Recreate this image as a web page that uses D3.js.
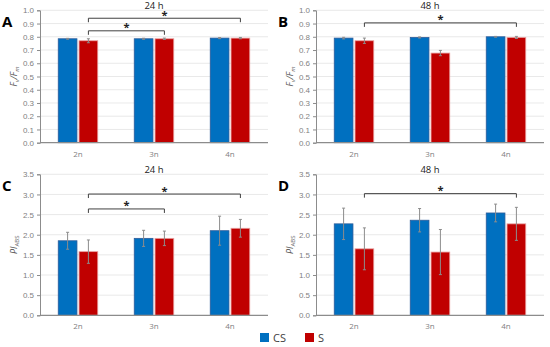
<!DOCTYPE html>
<html>
<head>
<meta charset="utf-8">
<script src="https://cdn.jsdelivr.net/npm/d3@7"></script>
<style>
  body { margin: 0; background: #fff; }
  svg { font-family: "Open Sans", "Liberation Sans", sans-serif; }
</style>
</head>
<body>
<div id="chart-area"></div>
<script>
// categories and series
const ploidy = ["2n", "3n", "4n"]
const series = ["CS", "S"]

// Fv/Fm, 24 h
const fvfm24CS = [0.785, 0.785, 0.790]
const fvfm24S = [0.770, 0.785, 0.790]
const fvfm24CSerr = [0.003, 0.004, 0.004]
const fvfm24Serr = [0.015, 0.005, 0.005]
// Fv/Fm, 48 h
const fvfm48CS = [0.790, 0.795, 0.800]
const fvfm48S = [0.770, 0.677, 0.795]
const fvfm48CSerr = [0.006, 0.004, 0.003]
const fvfm48Serr = [0.020, 0.020, 0.008]
// PI ABS, 24 h
const pi24CS = [1.85, 1.91, 2.10]
const pi24S = [1.58, 1.91, 2.16]
const pi24CSerr = [0.21, 0.20, 0.36]
const pi24Serr = [0.29, 0.18, 0.22]
// PI ABS, 48 h
const pi48CS = [2.27, 2.36, 2.54]
const pi48S = [1.65, 1.57, 2.27]
const pi48CSerr = [0.39, 0.29, 0.22]
const pi48Serr = [0.52, 0.56, 0.41]

// significance brackets (from, to, level)
const sig24A = [["2n", "3n", 0.845], ["2n", "4n", 0.94]]
const sig48B = [["2n", "4n", 0.905]]
const sig24C = [["2n", "3n", 2.64], ["2n", "4n", 3.01]]
const sig48D = [["2n", "4n", 3.02]]

const fvfmTicks = d3.range(0, 1.01, 0.1)
const piTicks = d3.range(0, 3.51, 0.5)

const COLORS = { CS: "#0070c0", S: "#c00000" }
const STROKES = { CS: "#2e5c9a", S: "#e8a0a0" }

const svg = d3.select("#chart-area").append("svg")
  .attr("width", 550)
  .attr("height", 347)

const panels = [
  { letter: "A", title: "24 h", cs: fvfm24CS, s: fvfm24S, csErr: fvfm24CSerr, sErr: fvfm24Serr,
    sig: sig24A, ticks: fvfmTicks, max: 1, fmt: ".1f", ylabel: "fvfm",
    left: 40, right: 268, top: 10.3, bottom: 142.7 },
  { letter: "B", title: "48 h", cs: fvfm48CS, s: fvfm48S, csErr: fvfm48CSerr, sErr: fvfm48Serr,
    sig: sig48B, ticks: fvfmTicks, max: 1, fmt: ".1f", ylabel: "fvfm",
    left: 316, right: 544, top: 10.3, bottom: 142.7 },
  { letter: "C", title: "24 h", cs: pi24CS, s: pi24S, csErr: pi24CSerr, sErr: pi24Serr,
    sig: sig24C, ticks: piTicks, max: 3.5, fmt: ".1f", ylabel: "pi",
    left: 40, right: 268, top: 174.3, bottom: 315.3 },
  { letter: "D", title: "48 h", cs: pi48CS, s: pi48S, csErr: pi48CSerr, sErr: pi48Serr,
    sig: sig48D, ticks: piTicks, max: 3.5, fmt: ".1f", ylabel: "pi",
    left: 316, right: 544, top: 174.3, bottom: 315.3 }
]

panels.forEach(p => drawPanel(p))

function drawPanel(p) {
  const g = svg.append("g")

  const x = d3.scaleBand().domain(ploidy).range([p.left, p.right]).padding(0)
  const xs = d3.scaleBand().domain(series)
    .range([x.bandwidth() * 0.24, x.bandwidth() * 0.76])
    .paddingInner(0.1)
  const y = d3.scaleLinear().domain([0, p.max]).range([p.bottom, p.top])

  // gridlines
  g.append("g").selectAll("line")
    .data(p.ticks.slice(1))
    .join("line")
    .attr("x1", p.left).attr("x2", p.right)
    .attr("y1", d => y(d)).attr("y2", d => y(d))
    .attr("stroke", "#e3e3e3").attr("stroke-width", 0.8)

  // y axis
  const yAxis = g.append("g")
    .attr("transform", `translate(${p.left},0)`)
    .call(d3.axisLeft(y).tickValues(p.ticks).tickFormat(d3.format(p.fmt)).tickSize(3))
  yAxis.select(".domain").attr("stroke", "#8c8c8c")
  yAxis.selectAll(".tick line").attr("stroke", "#8c8c8c")
  yAxis.selectAll(".tick text").attr("fill", "#7f7f7f").style("font-size", "8px").attr("x", -6)

  // bars
  const rows = ploidy.map((k, i) => [
    { cat: k, key: "CS", v: p.cs[i], e: p.csErr[i] },
    { cat: k, key: "S", v: p.s[i], e: p.sErr[i] }
  ]).flat()

  g.append("g").selectAll("rect")
    .data(rows)
    .join("rect")
    .attr("x", d => x(d.cat) + xs(d.key))
    .attr("width", xs.bandwidth())
    .attr("y", d => y(d.v))
    .attr("height", d => y(0) - y(d.v))
    .attr("fill", d => COLORS[d.key])
    .attr("stroke", d => STROKES[d.key])
    .attr("stroke-width", 0.8)

  // error bars
  const eb = g.append("g").attr("stroke", "#8c8c8c").attr("stroke-width", 1)
  rows.forEach(d => {
    const cx = x(d.cat) + xs(d.key) + xs.bandwidth() / 2
    eb.append("line").attr("x1", cx).attr("x2", cx)
      .attr("y1", y(d.v + d.e)).attr("y2", y(d.v - d.e))
    ;[d.v + d.e, d.v - d.e].forEach(v => {
      eb.append("line").attr("x1", cx - 1.5).attr("x2", cx + 1.5)
        .attr("y1", y(v)).attr("y2", y(v))
    })
  })

  // x baseline
  g.append("line")
    .attr("x1", p.left).attr("x2", p.right)
    .attr("y1", y(0)).attr("y2", y(0))
    .attr("stroke", "#8c8c8c").attr("stroke-width", 1.3)

  // x labels
  g.append("g").selectAll("text")
    .data(ploidy)
    .join("text")
    .attr("x", d => x(d) + x.bandwidth() / 2)
    .attr("y", y(0) + 14)
    .attr("text-anchor", "middle")
    .attr("fill", "#7f7f7f")
    .style("font-size", "8px")
    .text(d => d)

  // significance brackets
  p.sig.forEach(([a, b, lvl]) => {
    const x1 = x(a) + xs("S") + xs.bandwidth() / 2
    const x2 = x(b) + xs("S") + xs.bandwidth() / 2
    const yy = y(lvl)
    g.append("path")
      .attr("d", `M${x1},${yy + 4}V${yy}H${x2}V${yy + 4}`)
      .attr("fill", "none")
      .attr("stroke", "#404040")
      .attr("stroke-width", 1)
    g.append("text")
      .attr("x", (x1 + x2) / 2)
      .attr("y", yy + 0.5)
      .attr("text-anchor", "middle")
      .style("font-size", "11px")
      .style("font-weight", "bold")
      .attr("fill", "#222")
      .text("*")
  })

  // title
  g.append("text")
    .attr("x", (p.left + p.right) / 2)
    .attr("y", p.top - 1.5)
    .attr("text-anchor", "middle")
    .style("font-size", "9.5px")
    .attr("fill", "#222")
    .text(p.title)

  // panel letter
  g.append("text")
    .attr("x", p.left - 38)
    .attr("y", p.top + 17)
    .style("font-size", "15px")
    .style("font-weight", "bold")
    .attr("fill", "#000")
    .text(p.letter)

  // y label
  const yl = g.append("text")
    .attr("transform", `translate(${p.left - 23},${(p.top + p.bottom) / 2}) rotate(-90)`)
    .attr("text-anchor", "middle")
    .attr("fill", "#595959")
    .style("font-size", "9px")
    .style("font-style", "italic")
  if (p.ylabel === "fvfm") {
    yl.append("tspan").text("F")
    yl.append("tspan").attr("dy", 2).style("font-size", "6px").text("v")
    yl.append("tspan").attr("dy", -2).text("/F")
    yl.append("tspan").attr("dy", 2).style("font-size", "6px").text("m")
  } else {
    yl.append("tspan").text("PI")
    yl.append("tspan").attr("dy", 2).style("font-size", "6px")
      .style("font-style", "normal").text("ABS")
  }
}

// legend
const legend = svg.append("g").attr("transform", "translate(260,333)")
series.forEach((k, i) => {
  const lg = legend.append("g").attr("transform", `translate(${i * 45},0)`)
  lg.append("rect").attr("width", 9).attr("height", 9).attr("fill", COLORS[k])
  lg.append("text").attr("x", 13).attr("y", 8.5)
    .style("font-size", "11px").attr("fill", "#404040").text(k)
})
</script>
</body>
</html>
